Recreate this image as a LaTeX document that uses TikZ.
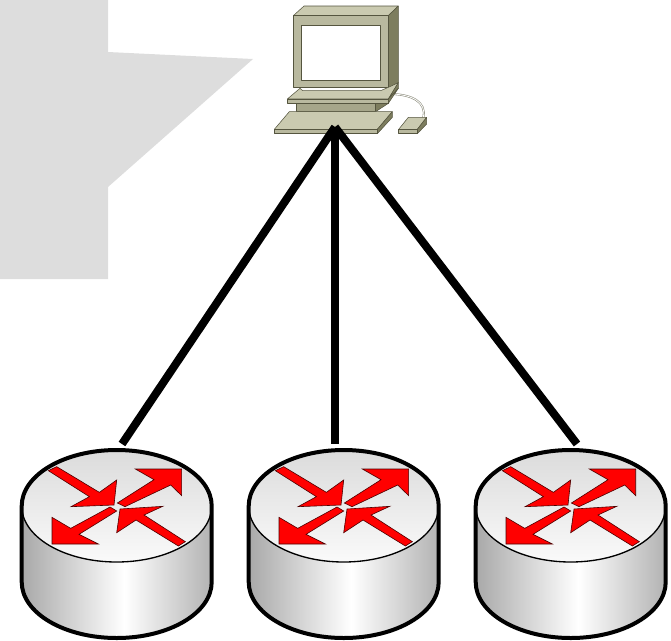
\documentclass[tikz,border=0pt]{standalone}
\pgfdeclarehorizontalshading{routerbody}{100bp}{color(0bp)=(black!34);color(25bp)=(black!34);color(52bp)=(white);color(75bp)=(black!30);color(100bp)=(black!30)}
\pgfdeclareverticalshading{routertop}{100bp}{color(0bp)=(black!2);color(25bp)=(black!2);color(75bp)=(black!14);color(100bp)=(black!14)}
\definecolor{pcfront}{HTML}{B9B99F}
\definecolor{pctop}{HTML}{CACAB0}
\definecolor{pcside}{HTML}{7D7D5E}
\definecolor{pcmid}{HTML}{A6A68A}
\definecolor{pcline}{HTML}{55553F}
\definecolor{blob}{HTML}{DDDDDD}
\tikzset{
  x=0.75pt,y=-0.75pt,
  link/.style={line width=6pt,black},
  arrowshape/.style={fill=red,draw=black!70!red,line width=0.45pt,line join=miter},
  pcpart/.style={draw=pcline,line width=0.4pt,line join=round},
  routerpic/.pic={
    \shade[shading=routerbody] (-95,0) -- (-95,76) arc[start angle=180,end angle=0,x radius=95,y radius=56] -- (95,0) -- cycle;
    \shade[shading=routertop] (0,0) ellipse[x radius=95,y radius=56];
    \draw[line width=1pt] (-95,0) arc[start angle=180,end angle=0,x radius=95,y radius=56];
    \draw[line width=3pt,line join=round] (-95,0) arc[start angle=180,end angle=360,x radius=95,y radius=56] -- (95,76) arc[start angle=0,end angle=180,x radius=95,y radius=56] -- cycle;
    \begin{scope}[shift={(-106.67,-71)},scale=0.33333]
      \draw[arrowshape] (115,107) -- (140,95) -- (268,172) -- (320,135) -- (312,210) -- (183,215) -- (238,185) -- cycle;
      \draw[arrowshape] (322,204) -- (432,134) -- (376,102) -- (515,102) -- (515,182) -- (482,150) -- (345,215) -- cycle;
      \draw[arrowshape] (300,216) -- (320,228) -- (207,298) -- (265,327) -- (126,327) -- (126,247) -- (182,280) -- cycle;
      \draw[arrowshape] (526,320) -- (505,333) -- (378,255) -- (320,293) -- (330,222) -- (458,214) -- (402,240) -- cycle;
    \end{scope}
  }
}
\begin{document}
\begin{tikzpicture}
\useasboundingbox (0,0) rectangle (671,640);
\fill[blob] (0,0) -- (108,0) -- (108,52) -- (253,59) -- (108,187) -- (108,279) -- (0,279) -- cycle;

\coordinate (pc) at (335,127);
\coordinate (r1) at (122,444);
\coordinate (r2) at (335,444);
\coordinate (r3) at (577,444);

\begin{scope}[shift={(260,0)},scale=0.33333]
  % cable
  \draw[pcline!65,line width=1.5pt] (395,282) .. controls (455,284) and (500,305) .. (490,352);
  \draw[white,line width=0.6pt] (395,282) .. controls (455,284) and (500,305) .. (490,352);
  % monitor
  \draw[pcpart,fill=pctop] (100,47) -- (132,18) -- (415,18) -- (385,47) -- cycle;
  \draw[pcpart,fill=pcside] (385,47) -- (415,18) -- (415,248) -- (385,265) -- cycle;
  \draw[pcpart,fill=pcfront] (100,47) rectangle (385,262);
  \draw[pcpart,fill=white] (124,77) rectangle (360,241);
  % base
  \draw[pcpart,fill=pcside] (347,310) -- (385,288) -- (385,310) -- (347,335) -- cycle;
  \draw[pcpart,fill=pcmid] (108,310) rectangle (347,335);
  \draw[pcpart,fill=pctop] (82,297) -- (120,265) -- (128,272) -- (362,272) -- (385,262) -- (415,248) -- (385,297) -- cycle;
  \draw[pcpart,fill=pcfront] (82,297) rectangle (385,310);
  \draw[pcpart,fill=pcside] (385,297) -- (415,265) -- (415,248) -- cycle;
  \draw[pcpart,fill=pcside] (385,297) -- (415,265) -- (385,310) -- cycle;
  % keyboard
  \draw[pcpart,fill=pctop] (43,388) -- (88,335) -- (397,335) -- (352,388) -- cycle;
  \draw[pcpart,fill=pcside] (352,388) -- (397,335) -- (397,352) -- (352,401) -- cycle;
  \draw[pcpart,fill=pcfront] (43,388) rectangle (352,401);
  % mouse
  \draw[pcpart,fill=pctop] (416,388) -- (445,352) -- (500,352) -- (472,388) -- cycle;
  \draw[pcpart,fill=pcside] (472,388) -- (500,352) -- (500,372) -- (472,401) -- cycle;
  \draw[pcpart,fill=pcfront] (416,388) rectangle (472,401);
\end{scope}

\draw[link] (pc) -- (r1);
\draw[link] (pc) -- (r2);
\draw[link] (pc) -- (r3);

\pic at (116.7,506) {routerpic};
\pic at (343.7,506) {routerpic};
\pic at (570.7,506) {routerpic};
\end{tikzpicture}
\end{document}
